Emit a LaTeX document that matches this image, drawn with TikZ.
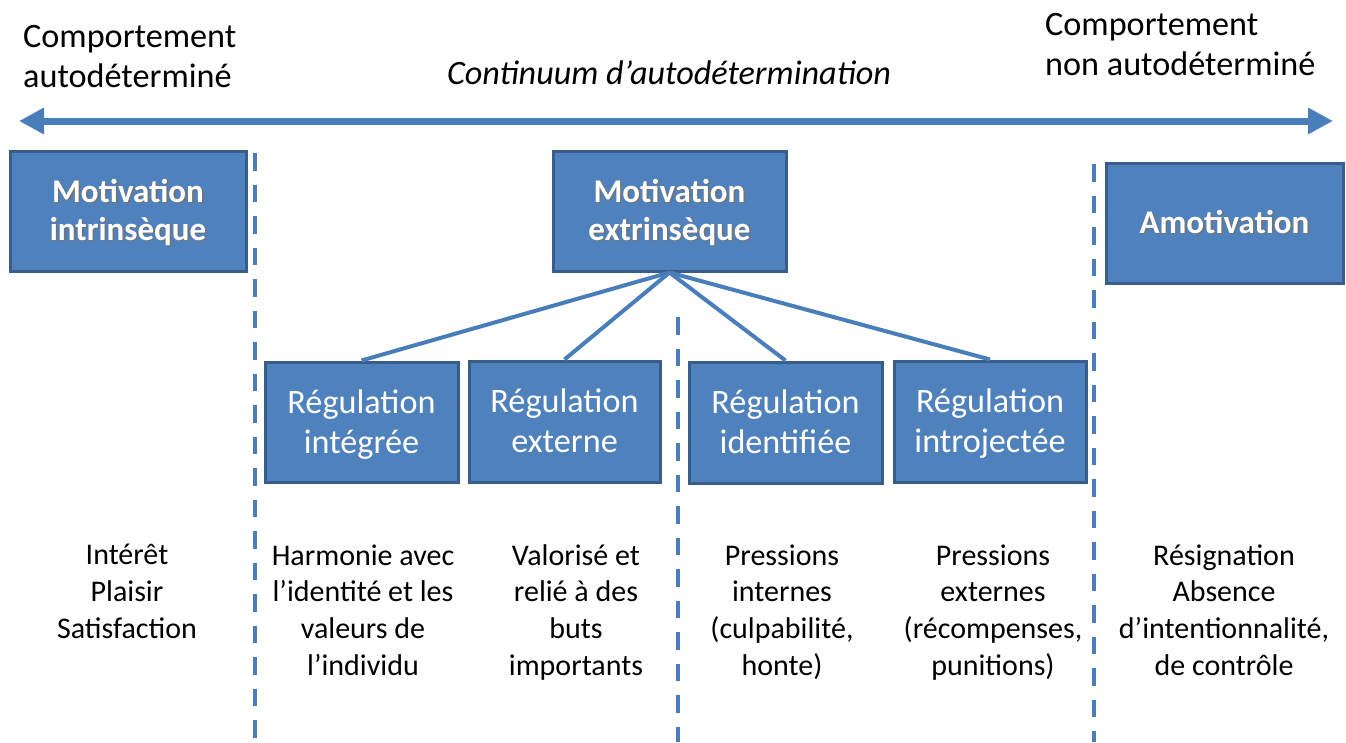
\documentclass[tikz,border=0pt]{standalone}
\usepackage{fontspec}
\setmainfont{Carlito}
\usetikzlibrary{arrows.meta}
\definecolor{boxfill}{HTML}{4F81BD}
\definecolor{boxedge}{HTML}{385D8A}
\definecolor{lineblue}{HTML}{4A7EBB}
\newcommand{\shd}[1]{\makebox[0pt][l]{\raisebox{-1.6pt}{\hspace{1.6pt}\textcolor{black!55}{#1}}}#1}
\tikzset{
  box/.style={draw=boxedge, fill=boxfill, line width=3pt, text=white, align=center, inner sep=0pt},
  bigbox/.style={box, font=\fontsize{33}{38}\selectfont\bfseries, text height=68pt, text depth=10pt},
  regbox/.style={box, font=\fontsize{34.2}{40}\selectfont, text height=72pt, text depth=10pt},
  desc/.style={align=center, inner sep=0pt, anchor=base, font=\fontsize{30}{36.6}\selectfont},
  toplab/.style={align=left, inner sep=0pt, anchor=base west, font=\fontsize{34.2}{39.5}\selectfont},
  link/.style={draw=lineblue, line width=4pt},
  sep/.style={draw=lineblue, line width=4pt, dash pattern=on 17.5pt off 14pt},
}
\begin{document}
\begin{tikzpicture}[x=1pt, y=-1pt]
\useasboundingbox (0,0) rectangle (1346,742);
% top labels (base = last line)
\node[toplab] (tl) at (23,87) {Comportement\\autodéterminé};
\node[toplab] (tr) at (1045,75) {Comportement\\non autodéterminé};
\node[inner sep=0pt, anchor=base, font=\fontsize{34.2}{40}\selectfont\itshape] (cont) at (669,84) {Continuum d’autodétermination};
% arrow
\coordinate (al) at (19,121);
\coordinate (ar) at (1333,121);
\draw[draw=lineblue, line width=7pt, {Triangle[length=25pt,width=25pt]}-{Triangle[length=25pt,width=25pt]}] (al) -- (ar);
% dashed separators
\coordinate (s1t) at (255,153); \coordinate (s1b) at (255,742);
\coordinate (s2t) at (678,317); \coordinate (s2b) at (678,742);
\coordinate (s3t) at (1094,164); \coordinate (s3b) at (1094,742);
\draw[sep] (s1t) -- (s1b);
\draw[sep] (s2t) -- (s2b);
\draw[sep] (s3t) -- (s3b);
% main boxes
\node[bigbox, minimum width=236pt, minimum height=120pt] (mi) at (128,211) {\shd{Motivation}\\\shd{intrinsèque}};
\node[bigbox, minimum width=233pt, minimum height=120pt] (me) at (669.5,211) {\shd{Motivation}\\\shd{extrinsèque}};
\node[bigbox, text height=30pt, minimum width=237pt, minimum height=120pt] (am) at (1224.5,223) {\shd{Amotivation}};
% regulation boxes
\node[regbox, minimum width=193pt, minimum height=120pt] (ri) at (361.5,422) {Régulation\\intégrée};
\node[regbox, minimum width=191pt, minimum height=121pt] (re) at (564.5,421.5) {Régulation\\externe};
\node[regbox, minimum width=193pt, minimum height=121pt] (rd) at (785.5,422.5) {Régulation\\identifiée};
\node[regbox, minimum width=192pt, minimum height=121pt] (rj) at (990,421.5) {Régulation\\introjectée};
% links
\draw[link] (me.south) -- (ri.north);
\draw[link] (me.south) -- (re.north);
\draw[link] (me.south) -- (rd.north);
\draw[link] (me.south) -- (rj.north);
% descriptions (base = last line)
\node[desc] (d1) at (127,638) {Intérêt\\Plaisir\\Satisfaction};
\node[desc] (d2) at (363,675) {Harmonie avec\\l’identité et les\\valeurs de\\l’individu};
\node[desc] (d3) at (576,675) {Valorisé et\\relié à des\\buts\\importants};
\node[desc] (d4) at (782,675) {Pressions\\internes\\(culpabilité,\\honte)};
\node[desc] (d5) at (993,675) {Pressions\\externes\\(récompenses,\\punitions)};
\node[desc] (d6) at (1224,675) {Résignation\\Absence\\d’intentionnalité,\\de contrôle};
\end{tikzpicture}
\end{document}
